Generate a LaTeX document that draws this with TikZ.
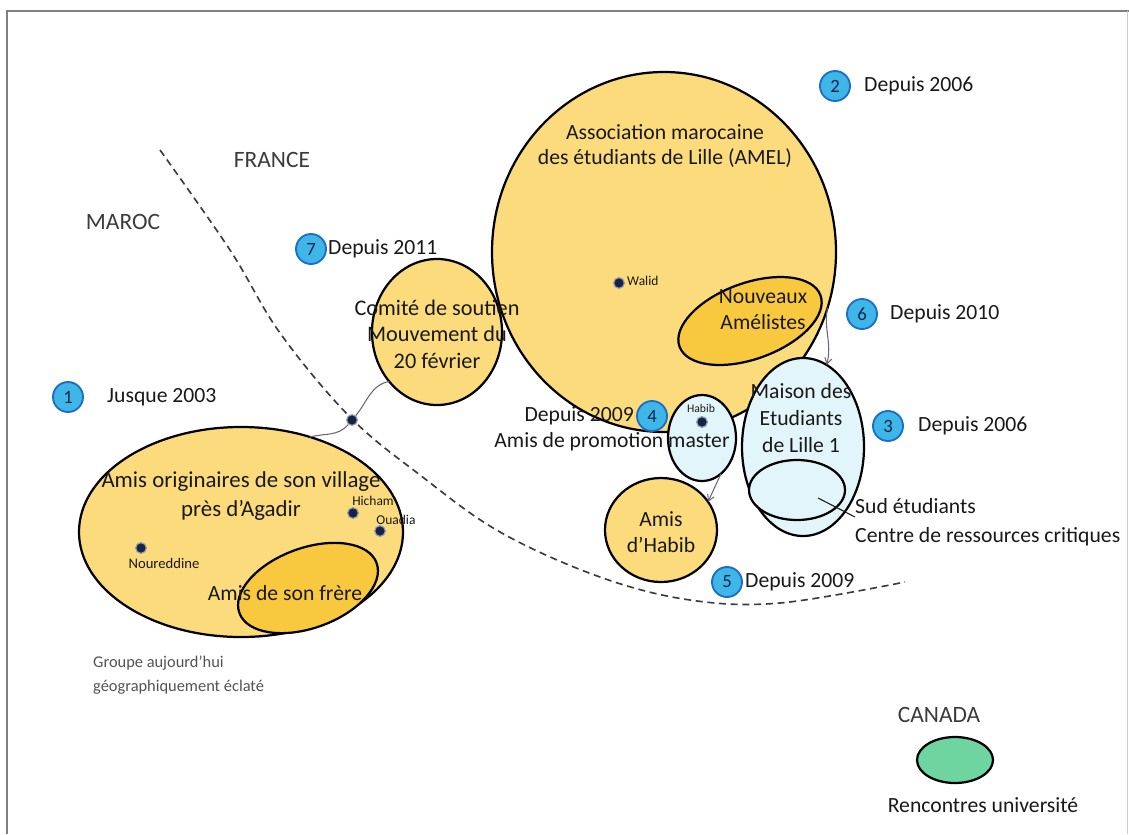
\documentclass[tikz,border=0pt]{standalone}
\usepackage{fontspec}
\setmainfont{Carlito}
\usetikzlibrary{shapes.geometric,arrows.meta}

\definecolor{jaune}{RGB}{252,219,124}
\definecolor{jaunefonce}{RGB}{248,200,62}
\definecolor{cyanpale}{RGB}{226,245,250}
\definecolor{vertcanada}{RGB}{110,212,160}
\definecolor{bleunum}{RGB}{62,182,232}
\definecolor{bleubord}{RGB}{30,110,200}
\definecolor{encre}{RGB}{25,25,25}
\definecolor{marine}{RGB}{20,35,70}
\definecolor{trait}{RGB}{110,100,120}

\tikzset{
  groupe/.style={ellipse, draw=black, line width=1.9pt, fill=jaune, inner sep=0pt, outer sep=0pt},
  sousgroupe/.style={groupe, fill=jaunefonce},
  univgroupe/.style={groupe, fill=cyanpale},
  numero/.style={circle, fill=bleunum, draw=bleubord, line width=1.6pt, minimum size=0.9cm, inner sep=0pt,
    text=marine, font=\fontsize{16}{16}\selectfont},
  etiquette/.style={text=encre, align=center, inner sep=0pt, font=\fontsize{18.5}{22}\selectfont},
  nomperso/.style={text=encre, inner sep=0pt, font=\fontsize{11.5}{13}\selectfont},
  personne/.style={circle, fill=marine, draw=marine!45, line width=1pt, minimum size=0.32cm, inner sep=0pt},
  pays/.style={text=encre!85, inner sep=0pt, font=\fontsize{20}{24}\selectfont},
  lien/.style={draw=trait, line width=0.9pt},
  fleche/.style={lien, -{Straight Barb[length=5pt,width=6pt]}},
  frontiere/.style={draw=encre!85, line width=1.4pt, dash pattern=on 6pt off 4pt}
}

\begin{document}
\begin{tikzpicture}[x=0.03cm,y=-0.03cm]
\useasboundingbox (0,0) rectangle (1129,834);
\fill[white] (0,0) rectangle (1129,834);
\draw[gray, line width=1.6pt] (7,834) -- (7,11) -- (1129,11);
\draw[gray!40, line width=0.8pt] (1127,11) -- (1127,834);

% frontiere Maroc / France
\draw[frontiere] plot[smooth, tension=0.6] coordinates {(160,150) (230,250) (280,333) (350,417) (420,475) (500,532) (600,577) (690,600) (780,603) (905,582)};
\node[pays] (maroc) at (123,222) {MAROC};
\node[pays] (france) at (272,160) {FRANCE};
\node[pays] (canada) at (939,715) {CANADA};

% AMEL
\node[groupe, minimum width=10.32cm, minimum height=10.8cm] (amel) at (664,252) {};
\node[etiquette] (amellabel) at (665,146) {Association marocaine\\des étudiants de Lille (AMEL)};
\node[personne] (walid) at (619,283) {};
\node[nomperso, anchor=west] (walidlabel) at (627,281) {Walid};
\node[sousgroupe, rotate=20, minimum width=4.5cm, minimum height=2.28cm] (nouveaux) at (750,321) {};
\node[etiquette] (nouveauxlabel) at (763,310) {Nouveaux\\Amélistes};

% Maison des Etudiants
\node[univgroupe, minimum width=3.66cm, minimum height=5.34cm] (maison) at (803,447) {};
\node[univgroupe, minimum width=2.88cm, minimum height=1.8cm] (sud) at (797,490) {};
\node[etiquette, font=\fontsize{18.5}{23}\selectfont] (maisonlabel) at (801,418) {Maison des\\Etudiants\\de Lille 1};
\node[etiquette, align=left, anchor=west, font=\fontsize{18.5}{24.5}\selectfont] (sudlabel) at (855,522) {Sud étudiants\\Centre de ressources critiques};
\coordinate (sudpt) at (818,498);
\draw[lien, draw=encre] (sudpt) -- (sudlabel.west |- 0,517);

\draw[fleche] (amel.-19) to[out=-100,in=75] (maison.74);

% promotion master et amis d'Habib
\node[univgroupe, minimum width=2.04cm, minimum height=2.58cm] (promo) at (702,438) {};
\node[personne] (habib) at (702,422) {};
\node[nomperso, font=\fontsize{10}{12}\selectfont] (habiblabel) at (701,408) {Habib};
\node[etiquette] (promolabel) at (612,442) {Amis de promotion master};
\node[groupe, minimum width=3.36cm, minimum height=3.12cm] (amishabib) at (661,530) {};
\node[etiquette] (amishabiblabel) at (661,532) {Amis\\d'Habib};
\draw[fleche] (promo.-62) -- (amishabib.31);

% Comite de soutien
\node[groupe, minimum width=3.9cm, minimum height=4.38cm] (comite) at (437,332) {};
\node[etiquette, font=\fontsize{19}{22.5}\selectfont] (comitelabel) at (437,334) {Comité de soutien\\Mouvement du\\20 février};

% village
\node[groupe, minimum width=9.72cm, minimum height=6.3cm] (village) at (241,532) {};
\node[sousgroupe, rotate=20, minimum width=4.38cm, minimum height=2.4cm] (frere) at (308,588) {};
\node[etiquette, font=\fontsize{19.5}{24}\selectfont] (villagelabel) at (241,496) {Amis originaires de son village\\près d'Agadir};
\node[etiquette] (frerelabel) at (285,593) {Amis de son frère};
\node[personne] (hicham) at (353,513) {};
\node[nomperso] (hichamlabel) at (373,501) {Hicham};
\node[personne] (ouadia) at (380,531) {};
\node[nomperso] (ouadialabel) at (396,520) {Ouadia};
\node[personne] (noureddine) at (141,548) {};
\node[nomperso, font=\fontsize{12.5}{14}\selectfont] (noureddinelabel) at (164,563) {Noureddine};
\node[nomperso, text=encre!75, align=left, anchor=west, font=\fontsize{14}{20}\selectfont] (eclate) at (93,675) {Groupe aujourd'hui\\géographiquement éclaté};

\node[personne] (passage) at (352,420) {};
\draw[lien] (village.54) to[out=15,in=230] (passage) to[out=50,in=190] (comite.226);

% Canada
\node[groupe, fill=vertcanada, minimum width=2.28cm, minimum height=1.38cm] (rencontres) at (955,760) {};
\node[etiquette] (rencontreslabel) at (983,805) {Rencontres université};

% etapes
\node[numero] (n1) at (68,397) {1};
\node[etiquette, anchor=west] (t1) at (107,397) {Jusque 2003};
\node[numero] (n2) at (835,86) {2};
\node[etiquette, anchor=west] (t2) at (864,86) {Depuis 2006};
\node[numero] (n3) at (888,426) {3};
\node[etiquette, anchor=west] (t3) at (918,426) {Depuis 2006};
\node[numero] (n4) at (652,416) {4};
\node[etiquette, anchor=east] (t4) at (634,416) {Depuis 2009};
\node[numero] (n5) at (727,582) {5};
\node[etiquette, anchor=west] (t5) at (745,582) {Depuis 2009};
\node[numero] (n6) at (862,314) {6};
\node[etiquette, anchor=west] (t6) at (890,314) {Depuis 2010};
\node[numero] (n7) at (311,249) {7};
\node[etiquette, anchor=west] (t7) at (328,249) {Depuis 2011};
\end{tikzpicture}
\end{document}
